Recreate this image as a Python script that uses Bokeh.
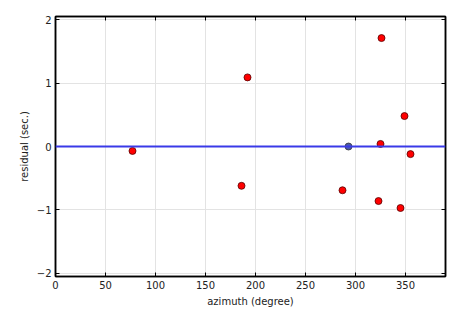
from bokeh.plotting import figure
from bokeh.models import LinearAxis, Range1d, FixedTicker, Span
from bokeh.embed import file_html
from bokeh.resources import INLINE

# data
azimuth = [77, 192, 186, 326, 349, 325, 355, 287, 323, 345]
residual = [-0.07, 1.09, -0.62, 1.71, 0.48, 0.04, -0.12, -0.69, -0.86, -0.97]
ref_azimuth = [293]
ref_residual = [0.0]
x_ticks = [0, 50, 100, 150, 200, 250, 300, 350]
y_ticks = [-2, -1, 0, 1, 2]

FONT = "DejaVu Sans"

p = figure(width=465, height=315, output_backend="svg", toolbar_location=None,
           x_range=Range1d(0, 390), y_range=Range1d(-2.05, 2.05),
           min_border_left=55, min_border_right=20, min_border_top=16, min_border_bottom=39)
p.background_fill_color = "white"
p.border_fill_color = "white"
p.outline_line_color = "black"
p.outline_line_width = 1.5

p.xgrid.ticker = FixedTicker(ticks=x_ticks)
p.ygrid.ticker = FixedTicker(ticks=y_ticks)
for g in (p.xgrid, p.ygrid):
    g.grid_line_color = "#e3e3e3"
    g.grid_line_width = 1

def style(ax, ticks, labels=True):
    ax.ticker = FixedTicker(ticks=ticks)
    ax.minor_tick_line_color = None
    ax.major_tick_in = 4
    ax.major_tick_out = 0
    ax.major_tick_line_color = "black"
    ax.axis_line_color = "black"
    ax.axis_line_width = 1.5
    ax.major_label_text_font = FONT
    ax.major_label_text_font_size = "10px"
    ax.major_label_text_color = "#222222" if labels else None
    ax.axis_label_text_font = FONT
    ax.axis_label_text_font_size = "10px"
    ax.axis_label_text_font_style = "normal"
    ax.axis_label_text_color = "#222222"
    ax.major_label_standoff = 4
    ax.axis_label_standoff = 4

style(p.xaxis[0], x_ticks)
style(p.yaxis[0], y_ticks)
p.xaxis[0].axis_label = "azimuth (degree)"
p.yaxis[0].axis_label = "residual (sec.)"

top = LinearAxis()
style(top, x_ticks, labels=False)
p.add_layout(top, "above")
right = LinearAxis()
style(right, y_ticks, labels=False)
p.add_layout(right, "right")

p.scatter(ref_azimuth, ref_residual, size=7, fill_color="#4a5aa8", line_color="#333333", line_width=0.8)
p.add_layout(Span(location=0, dimension="width", line_color="#3a3ae8", line_width=2))
p.scatter(azimuth, residual, size=7, fill_color="red", line_color="#550000", line_width=0.8)

open("out.html", "w").write(file_html(p, INLINE))
